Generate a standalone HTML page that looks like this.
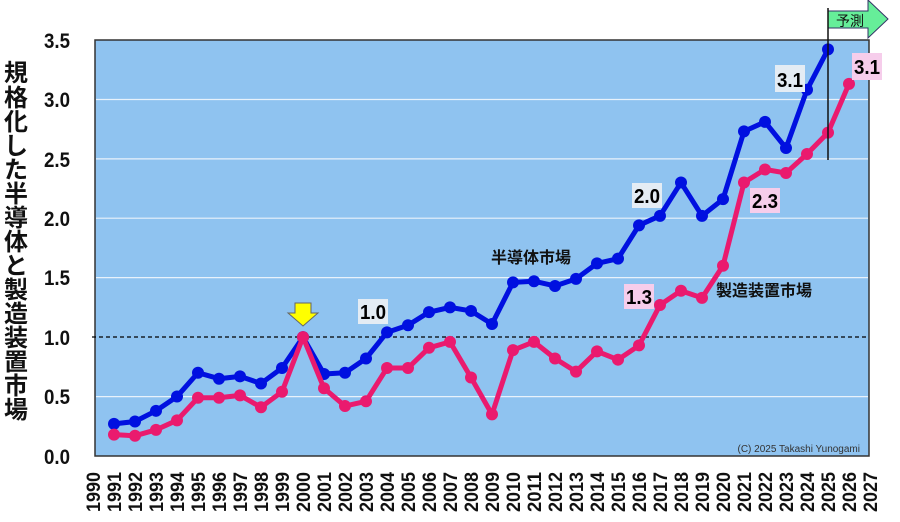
<!DOCTYPE html>
<html><head><meta charset="utf-8"><style>
body{margin:0;background:#fff;width:900px;height:517px;overflow:hidden}
svg text{font-family:"Liberation Sans","Noto Sans CJK JP",sans-serif;font-weight:bold}
</style></head><body>
<svg id="s" width="900" height="517" xmlns="http://www.w3.org/2000/svg">
<rect x="95" y="40" width="774" height="416" fill="#8fc3f0" stroke="#333" stroke-width="1.5"/>
<g stroke="#e8f2fb" stroke-width="1.2">
<line x1="96" x2="868" y1="99.5" y2="99.5"/><line x1="96" x2="868" y1="158.9" y2="158.9"/>
<line x1="96" x2="868" y1="218.2" y2="218.2"/><line x1="96" x2="868" y1="277.6" y2="277.6"/>
<line x1="96" x2="868" y1="396.6" y2="396.6"/></g>
<line x1="92" x2="868" y1="337" y2="337" stroke="#000" stroke-width="1.2" stroke-dasharray="4,3"/>
<g font-size="21" fill="#111">
<text x="44" y="48" textLength="26" lengthAdjust="spacingAndGlyphs">3.5</text><text x="44" y="107" textLength="26" lengthAdjust="spacingAndGlyphs">3.0</text><text x="44" y="167" textLength="26" lengthAdjust="spacingAndGlyphs">2.5</text>
<text x="44" y="226" textLength="26" lengthAdjust="spacingAndGlyphs">2.0</text><text x="44" y="285" textLength="26" lengthAdjust="spacingAndGlyphs">1.5</text><text x="44" y="345" textLength="26" lengthAdjust="spacingAndGlyphs">1.0</text>
<text x="44" y="404" textLength="26" lengthAdjust="spacingAndGlyphs">0.5</text><text x="44" y="464" textLength="26" lengthAdjust="spacingAndGlyphs">0.0</text></g>
<g font-size="24" fill="#111" text-anchor="middle">
<text x="16" y="81">規</text><text x="16" y="106">格</text><text x="16" y="130">化</text><text x="16" y="154">し</text><text x="16" y="178">た</text><text x="16" y="202">半</text><text x="16" y="226">導</text><text x="16" y="250">体</text><text x="16" y="274">と</text><text x="16" y="298">製</text><text x="16" y="322">造</text><text x="16" y="346">装</text><text x="16" y="370">置</text><text x="16" y="394">市</text><text x="16" y="418">場</text></g>
<g id="yrs" font-size="19" fill="#111"></g>
<g id="lines"></g>
<polygon points="295,303 311,303 311,313 318,313 303,326 288,313 295,313" fill="#ffff00" stroke="#666" stroke-width="1"/>
<rect x="358" y="299" width="30" height="25" fill="#e4ecf4"/><text x="360" y="319" font-size="20" textLength="26" lengthAdjust="spacingAndGlyphs">1.0</text>
<rect x="632" y="183" width="30" height="25" fill="#e4ecf4"/><text x="634" y="203" font-size="20" textLength="26" lengthAdjust="spacingAndGlyphs">2.0</text>
<rect x="775" y="65" width="30" height="27" fill="#e4ecf4"/><text x="777" y="87" font-size="20" textLength="26" lengthAdjust="spacingAndGlyphs">3.1</text>
<rect x="624" y="284" width="30" height="25" fill="#f6cdeb"/><text x="626" y="304" font-size="20" textLength="26" lengthAdjust="spacingAndGlyphs">1.3</text>
<rect x="750" y="188" width="30" height="25" fill="#f6cdeb"/><text x="752" y="208" font-size="20" textLength="26" lengthAdjust="spacingAndGlyphs">2.3</text>
<rect x="852" y="53" width="30" height="27" fill="#f6cdeb"/><text x="854" y="74" font-size="20" textLength="26" lengthAdjust="spacingAndGlyphs">3.1</text>
<text x="491" y="263" font-size="16" fill="#111">半導体市場</text>
<text x="716" y="296" font-size="16" fill="#111">製造装置市場</text>
<text x="860" y="452" font-size="10" fill="#333" text-anchor="end" style="font-weight:normal">(C) 2025 Takashi Yunogami</text>
<polygon points="828,11 868,11 868,0 888,19 868,38 868,28 828,28" fill="#66ee99" stroke="#336" stroke-width="1"/>
<text x="836" y="26" font-size="14" fill="#111" style="font-weight:normal">予測</text>
<line x1="828" x2="828" y1="8" y2="160" stroke="#111" stroke-width="1.5"/>
</svg>
<script>
var NS="http://www.w3.org/2000/svg";
var X=function(y){return 114+21*(y-1991)},Y=function(v){return 456-118.9*v};
var yrs=document.getElementById('yrs');
for(var y=1990;y<=2027;y++){var t=document.createElementNS(NS,'text');t.setAttribute('transform','translate('+(X(y)+7)+',512) rotate(-90)');t.setAttribute('textLength','40');t.setAttribute('lengthAdjust','spacingAndGlyphs');t.textContent=y;yrs.appendChild(t);}
var b=[0.27,0.29,0.38,0.50,0.70,0.65,0.67,0.61,0.74,1.0,0.69,0.70,0.82,1.04,1.10,1.21,1.25,1.22,1.11,1.46,1.47,1.43,1.49,1.62,1.66,1.94,2.02,2.30,2.02,2.16,2.73,2.81,2.59,3.08,3.42];
var p=[0.18,0.17,0.22,0.30,0.49,0.49,0.51,0.41,0.54,1.0,0.57,0.42,0.46,0.74,0.74,0.91,0.96,0.66,0.35,0.89,0.96,0.82,0.71,0.88,0.81,0.93,1.27,1.39,1.33,1.60,2.30,2.41,2.38,2.54,2.72,3.13];
var g=document.getElementById('lines');
function draw(d,c){var pts=d.map(function(v,i){return X(1991+i)+','+Y(v)}).join(' ');
var pl=document.createElementNS(NS,'polyline');pl.setAttribute('points',pts);pl.setAttribute('fill','none');pl.setAttribute('stroke',c);pl.setAttribute('stroke-width','5');pl.setAttribute('stroke-linejoin','round');g.appendChild(pl);
d.forEach(function(v,i){var ci=document.createElementNS(NS,'circle');ci.setAttribute('cx',X(1991+i));ci.setAttribute('cy',Y(v));ci.setAttribute('r','6');ci.setAttribute('fill',c);g.appendChild(ci);});}
draw(b,'#0010e0');draw(p,'#ea1a6e');
</script>
</body></html>
